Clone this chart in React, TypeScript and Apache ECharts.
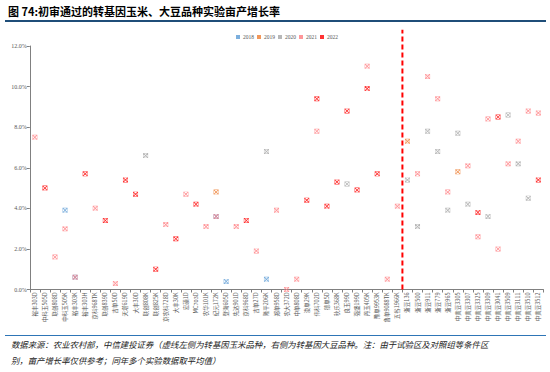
import React, { useEffect, useRef } from "react";
import * as echarts from "echarts";

const categories = [
  "裕丰303D", "中科玉505D", "联创808D", "中科玉505K", "裕丰303K", "裕丰303H", "京科968TK", "联创839D", "吉单50D", "天塔619D",
  "大丰30D", "联创808K", "联创825K", "京农科728D", "大丰30K", "宏硕1D", "MC703D", "农华101K", "纪元172K", "登海605D",
  "先达901D", "京科968D", "吉单27D", "隆平206K", "郑单958D", "农大372D", "中单808D", "浚单29K", "伟科702D", "德单5D",
  "秋乐368K", "良玉99D", "强盛199D", "丹玉405K", "豫单9953K", "鲁单9088TK", "五谷1966K",
  "浙豆136", "浙豆500", "浙豆911", "浙豆779", "浙豆965", "中黄豆3305", "中黄豆3307", "中黄豆3325", "中黄豆3309",
  "中黄豆3041", "中黄豆3509", "中黄豆3111", "中黄豆3510", "中黄豆3512",
];

const yearNames = ["2018", "2019", "2020", "2021", "2022"];

const y2018 = [
  null, null, null, 3.9, 0.6, null, null, null, null, null,
  null, null, null, null, null, null, null, null, 3.6, 0.4,
  null, null, null, 0.5, null, null, null, null, null, null,
  null, null, null, null, null, null, null, null, null, null,
  null, null, null, null, null, null, null, null, null, null,
  null,
];
const y2019 = [
  null, null, null, null, null, null, null, null, null, null,
  null, null, null, null, null, null, null, null, 4.8, null,
  null, null, null, null, null, null, null, null, null, null,
  null, null, null, null, null, null, null, 7.3, null, null,
  null, null, 5.8, null, null, null, null, null, null, null,
  null,
];
const y2020 = [
  null, null, null, null, null, null, null, null, null, null,
  null, 6.6, null, null, null, null, null, null, null, null,
  null, null, null, 6.8, null, null, null, null, null, null,
  null, 5.2, null, null, null, null, null, 5.4, 3.1, 7.8,
  6.8, 3.9, 7.7, 4.2, null, 3.6, null, 8.6, 6.2, 4.5,
  null,
];
const y2021 = [
  7.5, null, 1.6, 3.0, 0.6, null, 4.0, null, 0.3, null,
  null, null, null, 3.2, null, 4.7, null, 3.1, 3.6, null,
  3.1, null, 1.9, null, 3.9, 0.0, 0.5, null, 7.8, null,
  null, null, null, 11.0, null, 0.5, 4.1, null, 5.7, 10.5,
  9.4, 4.8, null, 6.1, 2.6, 8.4, 2.0, 6.2, 7.3, 8.8,
  8.7,
];
const y2022 = [
  null, 5.0, null, null, null, 5.7, null, 3.4, null, 5.4,
  4.7, null, 1.0, null, 2.5, null, 4.2, null, null, null,
  null, 3.4, null, null, null, null, null, 4.4, 9.4, 4.1,
  5.3, 8.8, 4.9, 9.9, 5.7, null, null, null, null, null,
  null, null, null, null, 3.8, null, 8.5, null, null, null,
  5.4,
];

const dividerIndex = 37; // first soybean variety
const dividerTop = 12.8;

const colors = ["#5B9BD5", "#ED7D31", "#A5A5A5", "#FF7C80", "#FF0000"];
const seriesValues = [y2018, y2019, y2020, y2021, y2022];

const markerPath =
  "path://M0,0 L10,0 L10,10 L0,10 Z M0.8,0.8 L0.8,9.2 L9.2,9.2 L9.2,0.8 Z M0,1.2 L1.2,0 L5,3.8 L8.8,0 L10,1.2 L6.2,5 L10,8.8 L8.8,10 L5,6.2 L1.2,10 L0,8.8 L3.8,5 Z";

export default function App() {
  const ref = useRef<HTMLDivElement>(null);
  useEffect(() => {
    if (!ref.current) return;
    const chart = echarts.init(ref.current, null, { renderer: "svg" });
    const scatterSeries = yearNames.map((name, i) => ({
      name,
      type: "scatter",
      xAxisIndex: 0,
      yAxisIndex: 0,
      symbol: markerPath,
      symbolSize: 5,
      itemStyle: { color: colors[i] },
      data: seriesValues[i].map((v) => (v === null ? "-" : v)),
      z: 3 + i,
    }));
    chart.setOption({
      animation: false,
      backgroundColor: "#ffffff",
      graphic: [
        {
          type: "text",
          left: 8,
          top: 5,
          style: {
            text: "图 74:初审通过的转基因玉米、大豆品种实验亩产增长率",
            fontFamily: "Noto Sans CJK SC",
            fontWeight: "bold",
            fontSize: 11,
            fill: "#000",
          },
        },
        { type: "rect", shape: { x: 5, y: 20, width: 541, height: 2 }, style: { fill: "#1F4E79" } },
        { type: "rect", shape: { x: 5, y: 335, width: 541, height: 1 }, style: { fill: "#2E75B6" } },
        {
          type: "text",
          left: 11,
          top: 340,
          style: {
            text: "数据来源：农业农村部，中信建投证券（虚线左侧为转基因玉米品种，右侧为转基因大豆品种。注：由于试验区及对照组等条件区",
            fontFamily: "Noto Sans CJK SC",
            fontStyle: "italic",
            fontSize: 8.4,
            fill: "#222",
          },
        },
        {
          type: "text",
          left: 11,
          top: 356,
          style: {
            text: "别，亩产增长率仅供参考；同年多个实验数据取平均值）",
            fontFamily: "Noto Sans CJK SC",
            fontStyle: "italic",
            fontSize: 8.4,
            fill: "#222",
          },
        },
      ],
      legend: {
        data: yearNames,
        left: 231,
        top: 29,
        icon: "rect",
        itemWidth: 4,
        itemHeight: 4,
        itemGap: 3,
        textStyle: { fontSize: 5.5, color: "#595959", fontFamily: "Liberation Serif", padding: [0, 0, 0, -2] },
      },
      grid: { left: 29.8, right: 6.6, top: 46, bottom: 82.5, containLabel: false },
      xAxis: [
        {
          type: "category",
          data: categories,
          boundaryGap: true,
          axisLine: { lineStyle: { color: "#808080" } },
          axisTick: { show: true, alignWithLabel: false, interval: 0, length: 3, lineStyle: { color: "#808080" } },
          axisLabel: {
            interval: 0,
            rotate: 90,
            fontSize: 5.5,
            margin: 3,
            color: "#595959",
            fontFamily: "Noto Sans CJK SC",
          },
          splitLine: { show: false },
        },
        { type: "value", min: 0, max: categories.length, show: false },
      ],
      yAxis: {
        type: "value",
        min: 0,
        max: 12,
        interval: 2,
        axisLine: { show: true, lineStyle: { color: "#808080" } },
        axisTick: { show: true, length: 3, lineStyle: { color: "#808080" } },
        splitLine: { show: false },
        axisLabel: {
          formatter: (v: number) => v.toFixed(1) + "%",
          fontSize: 6,
          color: "#595959",
          fontFamily: "Liberation Serif",
          margin: 3,
        },
      },
      series: [
        ...scatterSeries,
        {
          name: "divider",
          type: "line",
          xAxisIndex: 1,
          yAxisIndex: 0,
          clip: false,
          symbol: "none",
          silent: true,
          data: [
            [dividerIndex, 0],
            [dividerIndex, dividerTop],
          ],
          lineStyle: { color: "#FF0000", width: 2, type: [5, 3] },
          z: 2,
        },
      ],
    });
    return () => chart.dispose();
  }, []);
  return (
    <div
      ref={ref}
      style={{ position: "fixed", left: 0, top: 0, width: 550, height: 372, background: "#fff" }}
    />
  );
}
